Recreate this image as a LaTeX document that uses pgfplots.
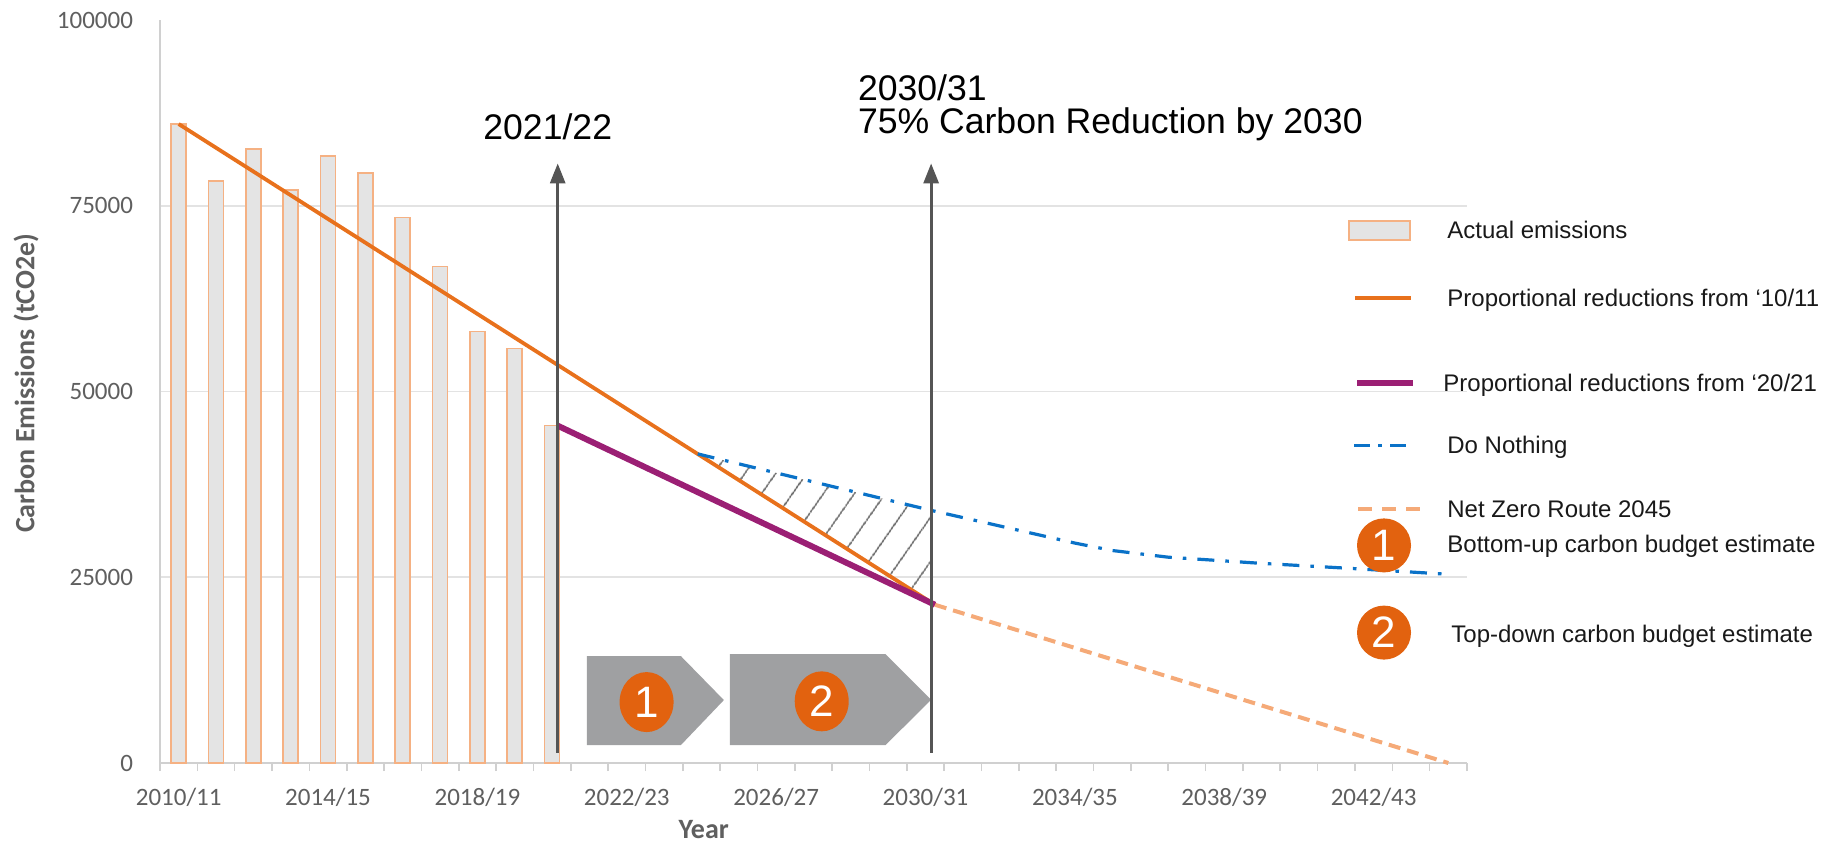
\documentclass[border=0pt]{standalone}
\usepackage{fontspec}
\setmainfont{Carlito}
\newfontfamily\arialf{Liberation Sans}
\usepackage{pgfplots}
\pgfplotsset{compat=1.18}
\usepgfplotslibrary{fillbetween}
\usetikzlibrary{patterns.meta,arrows.meta}

\definecolor{cOrange}{HTML}{E8711C}
\definecolor{cBarFill}{HTML}{E4E4E4}
\definecolor{cBarEdge}{HTML}{F5B183}
\definecolor{cPurple}{HTML}{9B1F74}
\definecolor{cBlue}{HTML}{0A72C8}
\definecolor{cNZ}{HTML}{F5AA78}
\definecolor{cArrow}{HTML}{555555}
\definecolor{cChev}{HTML}{9FA0A2}
\definecolor{cCircle}{HTML}{E2620F}
\definecolor{cGrid}{HTML}{E3E3E3}
\definecolor{cAxis}{HTML}{D0D0D0}
\definecolor{cTick}{HTML}{5F5F5F}

\begin{document}
\begin{tikzpicture}
\begin{axis}[
  scale only axis, width=653.5pt, height=371.5pt,
  xmin=0, xmax=35, ymin=0, ymax=100000,
  axis x line*=bottom, axis y line*=left,
  axis line style={draw=cAxis, line width=0.8pt, -},
  clip=false,
  set layers,
  xtick={0,...,35}, xticklabels={},
  major tick length=4pt, tick align=outside,
  x tick style={draw=cAxis, line width=0.8pt},
  y tick style={draw=none},
  ytick={0,25000,50000,75000,100000},
  yticklabels={0,25000,50000,75000,100000},
  scaled y ticks=false,
  extra x ticks={0.5,4.5,...,32.5},
  extra x tick labels={2010/11,2014/15,2018/19,2022/23,2026/27,2030/31,2034/35,2038/39,2042/43},
  extra x tick style={major tick length=0pt},
  extra y ticks={25000,50000,75000},
  extra y tick labels={},
  extra y tick style={grid=major, major grid style={draw=cGrid, line width=0.8pt}},
  xticklabel style={font=\fontsize{12.5}{15}\selectfont, text=cTick, yshift=-9pt},
  yticklabel style={font=\fontsize{12.5}{15}\selectfont, text=cTick, xshift=-6pt},
  xlabel={Year},
  ylabel={Carbon Emissions (tCO2e)},
  x label style={at={(axis description cs:0.416,-0.090)}, anchor=center, font=\bfseries\fontsize{14}{16}\selectfont, text=cTick},
  y label style={at={(axis description cs:-0.1025,0.511)}, anchor=center, font=\bfseries\fontsize{14}{16}\selectfont, text=cTick},
]
% Actual emissions
\addplot[ybar, bar width=7.5pt, fill=cBarFill, draw=cBarEdge, line width=0.8pt]
  coordinates {(0.5,86000)(1.5,78300)(2.5,82600)(3.5,77100)(4.5,81700)(5.5,79400)(6.5,73400)(7.5,66800)(8.5,58100)(9.5,55800)(10.5,45400)};
% Proportional reductions from 10/11
\addplot[cOrange, line width=1.9pt, name path=orange]
  coordinates {(0.5,86000)(20.75,21300)};
% Do nothing
\addplot[cBlue, line width=1.6pt, dash pattern=on 8.5pt off 5.5pt on 1.8pt off 5.5pt, name path=blue]
  coordinates {(14.4,41600)(20.65,34000)(24.5,29600)(25.5,28600)(27,27700)(29.4,26900)(31.85,26200)(34.5,25400)};
% Net zero route
\addplot[cNZ, line width=2pt, dash pattern=on 6pt off 3.5pt]
  coordinates {(20.75,21300)(34.5,0)};
% Proportional reductions from 20/21
\addplot[cPurple, line width=3pt]
  coordinates {(10.65,45400)(20.75,21300)};
% hatch
\addplot[draw=none, pattern={Lines[angle=55,distance=13pt,line width=0.8pt]}, pattern color=cArrow!90]
  fill between[of=blue and orange, soft clip={domain=14.4:20.65}];
% chevrons
\fill[cChev] (axis cs:11.43,2420) -- (axis cs:13.95,2420) -- (axis cs:15.1,8470) -- (axis cs:13.95,14380) -- (axis cs:11.43,14380) -- cycle;
\fill[cChev] (axis cs:15.26,2420) -- (axis cs:19.43,2420) -- (axis cs:20.65,8500) -- (axis cs:19.43,14650) -- (axis cs:15.26,14650) -- cycle;
\fill[cCircle] (axis cs:13.03,8200) ellipse [x radius=13.5pt, y radius=15pt];
\fill[cCircle] (axis cs:17.72,8300) ellipse [x radius=13.5pt, y radius=15pt];
\node[text=white, font=\arialf\fontsize{22}{26}\selectfont] at (axis cs:13.03,8200) {1};
\node[text=white, font=\arialf\fontsize{22}{26}\selectfont] at (axis cs:17.72,8300) {2};
% arrows
\draw[cArrow, line width=1.5pt, -{Triangle[length=10pt,width=7.5pt]}] (axis cs:10.65,1400) -- (axis cs:10.65,80700);
\draw[cArrow, line width=1.5pt, -{Triangle[length=10pt,width=7.5pt]}] (axis cs:20.65,1400) -- (axis cs:20.65,80700);
\end{axis}
% annotations
\node[anchor=base west, inner sep=0pt, font=\arialf\fontsize{17.8}{20}\selectfont] at (161.5pt,311.5pt) {2021/22};
\node[anchor=base west, inner sep=0pt, font=\arialf\fontsize{17.8}{20}\selectfont] at (348.8pt,331pt) {2030/31};
\node[anchor=base west, inner sep=0pt, font=\arialf\fontsize{17.8}{20}\selectfont] at (348.8pt,314.5pt) {75\% Carbon Reduction by 2030};
% legend
\draw[cBarEdge, fill=cBarFill, line width=1pt] (594.5pt,261.5pt) rectangle (625pt,271pt);
\draw[cOrange, line width=2.4pt] (597.5pt,232.5pt) -- (625.5pt,232.5pt);
\draw[cPurple, line width=2.6pt] (598.5pt,190pt) -- (626.5pt,190pt);
\draw[cBlue, line width=1.8pt, dash pattern=on 8pt off 4pt on 2pt off 4pt] (597pt,158.8pt) -- (625pt,158.8pt);
\draw[cNZ, line width=1.8pt, dash pattern=on 7pt off 5pt] (599pt,127pt) -- (630pt,127pt);
\fill[cCircle] (612pt,108.8pt) circle (13.5pt);
\fill[cCircle] (612pt,65.2pt) circle (13.5pt);
\node[text=white, font=\arialf\fontsize{22}{26}\selectfont] at (612pt,108.8pt) {1};
\node[text=white, font=\arialf\fontsize{22}{26}\selectfont] at (612pt,65.2pt) {2};
\begin{scope}[every node/.style={anchor=base west, inner sep=0pt, font=\arialf\fontsize{12}{14}\selectfont, text=black!90}]
\node at (643.5pt,262.2pt) {Actual emissions};
\node at (643.5pt,228.2pt) {Proportional reductions from ‘10/11};
\node at (641.5pt,185.7pt) {Proportional reductions from ‘20/21};
\node at (643.5pt,154.6pt) {Do Nothing};
\node at (643.5pt,122.7pt) {Net Zero Route 2045};
\node at (643.5pt,105.1pt) {Bottom-up carbon budget estimate};
\node at (645.5pt,60.3pt) {Top-down carbon budget estimate};
\end{scope}
\path (-80pt,-41pt) rectangle (843.5pt,381.5pt);
\end{tikzpicture}
\end{document}
